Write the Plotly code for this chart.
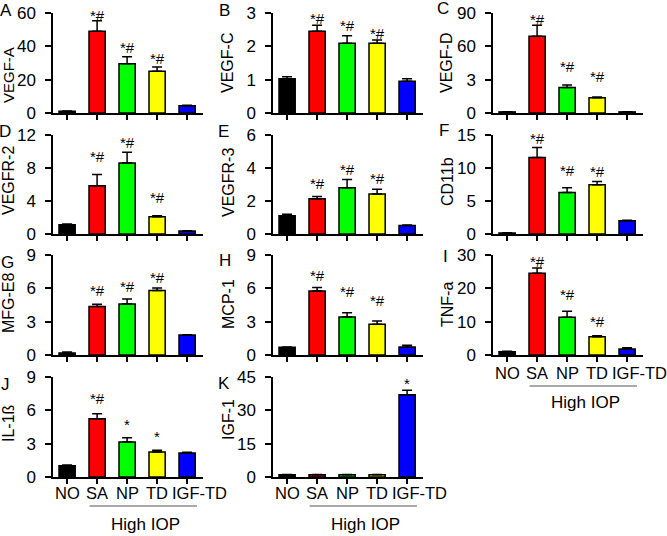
import plotly.graph_objects as go

# ---------------- data ----------------
groups = ["NO", "SA", "NP", "TD", "IGF-TD"]
bar_colors = ["#000000", "#FF0000", "#00FF00", "#FFFF00", "#0000FF"]

vegf_a_mean = [1.0, 49.0, 29.5, 25.0, 4.3]
vegf_a_sem = [0.2, 6.3, 4.3, 2.6, 0.3]
vegf_a_sig = ["", "*#", "*#", "*#", ""]
vegf_a_ticks = [0, 20, 40, 60]

vegf_c_mean = [1.03, 2.45, 2.09, 2.09, 0.95]
vegf_c_sem = [0.06, 0.18, 0.23, 0.10, 0.08]
vegf_c_sig = ["", "*#", "*#", "*#", ""]
vegf_c_ticks = [0, 1, 2, 3]

vegf_d_mean = [0.1, 69.0, 2.3, 1.38, 0.1]
vegf_d_sem = [0.02, 10.0, 0.22, 0.05, 0.02]
vegf_d_sig = ["", "*#", "*#", "*#", ""]
vegf_d_ticks = [0, 3, 60, 90]   # broken (segmented) axis

vegfr2_mean = [1.13, 5.85, 8.6, 2.08, 0.36]
vegfr2_sem = [0.07, 1.35, 1.3, 0.12, 0.03]
vegfr2_sig = ["", "*#", "*#", "*#", ""]
vegfr2_ticks = [0, 4, 8, 12]

vegfr3_mean = [1.1, 2.13, 2.8, 2.43, 0.52]
vegfr3_sem = [0.1, 0.15, 0.5, 0.28, 0.03]
vegfr3_sig = ["", "*#", "*#", "*#", ""]
vegfr3_ticks = [0, 2, 4, 6]

cd11b_mean = [0.15, 11.6, 6.3, 7.45, 2.0]
cd11b_sem = [0.05, 1.5, 0.7, 0.5, 0.1]
cd11b_sig = ["", "*#", "*#", "*#", ""]
cd11b_ticks = [0, 5, 10, 15]

mfge8_mean = [0.18, 4.37, 4.58, 5.81, 1.8]
mfge8_sem = [0.08, 0.2, 0.45, 0.21, 0.03]
mfge8_sig = ["", "*#", "*#", "*#", ""]
mfge8_ticks = [0, 3, 6, 9]

mcp1_mean = [0.69, 5.75, 3.43, 2.77, 0.72]
mcp1_sem = [0.04, 0.33, 0.37, 0.3, 0.15]
mcp1_sig = ["", "*#", "*#", "*#", ""]
mcp1_ticks = [0, 3, 6, 9]

tnfa_mean = [1.0, 24.5, 11.3, 5.5, 1.8]
tnfa_sem = [0.1, 1.6, 1.8, 0.3, 0.4]
tnfa_sig = ["", "*#", "*#", "*#", ""]
tnfa_ticks = [0, 10, 20, 30]

il1b_mean = [1.02, 5.25, 3.15, 2.25, 2.16]
il1b_sem = [0.05, 0.45, 0.39, 0.15, 0.07]
il1b_sig = ["", "*#", "*", "*", ""]
il1b_ticks = [0, 3, 6, 9]

igf1_mean = [1.0, 1.0, 1.0, 1.0, 37.0]
igf1_sem = [0.1, 0.1, 0.1, 0.1, 2.0]
igf1_sig = ["", "", "", "", "*"]
igf1_ticks = [0, 15, 30, 45]

group_label = "High IOP"

# ---------------- layout helpers ----------------
W, H = 667, 536
FONT = "Liberation Sans, Arial, sans-serif"


def px(x):
    return x / W


def py(y):
    return 1 - y / H


def seg(v):
    """segmented axis used for VEGF-D: 0-3 | 3-60 | 60-90 each one unit"""
    if v <= 3:
        return v / 3.0
    if v <= 60:
        return 1 + (v - 3) / 57.0
    return 2 + (v - 60) / 30.0


panels = [
    # letter, label, mean, sem, sig, ticks, col, row, segmented, show x labels
    ("A", "VEGF-A", vegf_a_mean, vegf_a_sem, vegf_a_sig, vegf_a_ticks, 0, 0, False, False),
    ("B", "VEGF-C", vegf_c_mean, vegf_c_sem, vegf_c_sig, vegf_c_ticks, 1, 0, False, False),
    ("C", "VEGF-D", vegf_d_mean, vegf_d_sem, vegf_d_sig, vegf_d_ticks, 2, 0, True, False),
    ("D", "VEGFR-2", vegfr2_mean, vegfr2_sem, vegfr2_sig, vegfr2_ticks, 0, 1, False, False),
    ("E", "VEGFR-3", vegfr3_mean, vegfr3_sem, vegfr3_sig, vegfr3_ticks, 1, 1, False, False),
    ("F", "CD11b", cd11b_mean, cd11b_sem, cd11b_sig, cd11b_ticks, 2, 1, False, False),
    ("G", "MFG-E8", mfge8_mean, mfge8_sem, mfge8_sig, mfge8_ticks, 0, 2, False, False),
    ("H", "MCP-1", mcp1_mean, mcp1_sem, mcp1_sig, mcp1_ticks, 1, 2, False, False),
    ("I", "TNF-a", tnfa_mean, tnfa_sem, tnfa_sig, tnfa_ticks, 2, 2, False, True),
    ("J", "IL-1ß", il1b_mean, il1b_sem, il1b_sig, il1b_ticks, 0, 3, False, True),
    ("K", "IGF-1", igf1_mean, igf1_sem, igf1_sig, igf1_ticks, 1, 3, False, True),
]

col_x0 = [53, 273, 493]
plot_w = 150
row_y = [(13, 113), (135, 234), (255, 355), (377, 477)]

# pixel positions of panel letters and y-labels (centers)
letter_pos = {"A": (6, 10), "B": (224, 10), "C": (443, 9), "D": (5, 131), "E": (223, 131),
              "F": (444, 130), "G": (7, 262), "H": (225, 260), "I": (445, 256),
              "J": (5, 384), "K": (224, 383)}
label_pos = {"A": (8, 75), "B": (228, 63), "C": (447, 63), "D": (8, 181), "E": (228, 183),
             "F": (447, 182), "G": (8, 303), "H": (228, 304), "I": (447, 305),
             "J": (8, 423), "K": (228, 420)}
label_size = {"A": 15}
# pixel gap between error-bar top and centre of significance text
star_shift = {"A": [0, 5, 9, 9, 0], "B": [0, 7, 10, 6, 0], "C": [0, 6, 19, 21, 0],
              "D": [0, 18, 10, 18, 0], "E": [0, 13, 10, 11, 0], "F": [0, 9, 17, 10, 0],
              "G": [0, 14, 13, 11, 0], "H": [0, 12, 21, 20, 0], "I": [0, 7, 17, 14, 0],
              "J": [0, 15, 13, 14, 0], "K": [0, 0, 0, 0, 7]}
cat_label_y = {"I": 373, "J": 493, "K": 493}
cat_label_xshift = [0, 0, 0, 0, 12]
group_line_y = {"I": 386, "J": 506, "K": 506}
group_text_y = {"I": 402, "J": 524, "K": 524}

fig = go.Figure()
layout = dict(
    width=W, height=H,
    margin=dict(l=0, r=0, t=0, b=0, autoexpand=False),
    paper_bgcolor="white", plot_bgcolor="white",
    showlegend=False,
    font=dict(family=FONT, size=17, color="black"),
    annotations=[], shapes=[],
)

xs = list(range(len(groups)))

for k, (letter, label, mean, sem, sig, ticks, col, row, segmented, showx) in enumerate(panels):
    n = k + 1
    xa = "x" if n == 1 else f"x{n}"
    ya = "y" if n == 1 else f"y{n}"
    tr = seg if segmented else (lambda v: v)
    ymean = [tr(v) for v in mean]
    ytop = [tr(m + s) for m, s in zip(mean, sem)]
    err = [t - m for t, m in zip(ytop, ymean)]

    fig.add_trace(go.Bar(
        x=xs, y=ymean, xaxis=xa, yaxis=ya, width=0.54,
        marker=dict(color=bar_colors, line=dict(color="black", width=1.5)),
        error_y=dict(type="data", array=err, arrayminus=[0] * len(err), symmetric=False,
                     color="black", thickness=1.5, width=5),
        hoverinfo="skip",
    ))

    x0 = col_x0[col]
    top, bot = row_y[row]
    tickvals = [tr(t) for t in ticks]
    layout["xaxis" if n == 1 else f"xaxis{n}"] = dict(
        domain=[px(x0), px(x0 + plot_w)], anchor=ya, automargin=False,
        range=[-0.47, 4.53], showline=True, linecolor="black", linewidth=1.5,
        ticks="outside", ticklen=5, tickwidth=1.5, tickcolor="black",
        tickvals=xs, showticklabels=False,
        showgrid=False, zeroline=False, fixedrange=True,
    )
    layout["yaxis" if n == 1 else f"yaxis{n}"] = dict(
        domain=[py(bot), py(top)], anchor=xa, automargin=False,
        range=[0, tickvals[-1]], showline=True, linecolor="black", linewidth=1.5,
        ticks="outside", ticklen=6, tickwidth=1.5, tickcolor="black",
        tickvals=tickvals, ticktext=[str(t) for t in ticks],
        tickfont=dict(size=17, family=FONT), ticklabelstandoff=6,
        showgrid=False, zeroline=False, fixedrange=True,
    )

    lx, ly = letter_pos[letter]
    layout["annotations"].append(dict(
        text=letter, xref="paper", yref="paper", x=px(lx), y=py(ly),
        xanchor="center", yanchor="middle", showarrow=False,
        font=dict(size=17, family=FONT)))
    yx, yy = label_pos[letter]
    layout["annotations"].append(dict(
        text=label, xref="paper", yref="paper", x=px(yx), y=py(yy),
        xanchor="center", yanchor="middle", showarrow=False, textangle=-90,
        font=dict(size=label_size.get(letter, 16), family=FONT)))

    for i, s in enumerate(sig):
        if s:
            layout["annotations"].append(dict(
                text=s, xref=xa, yref=ya, x=i, y=ytop[i], yshift=star_shift[letter][i],
                xanchor="center", yanchor="middle", showarrow=False,
                font=dict(size=15, family=FONT)))

    if showx:
        for i, g in enumerate(groups):
            layout["annotations"].append(dict(
                text=g, xref=xa, yref="paper", x=i, xshift=cat_label_xshift[i],
                y=py(cat_label_y[letter]), xanchor="center", yanchor="middle",
                showarrow=False, font=dict(size=16.5, family=FONT)))
        ly0 = py(group_line_y[letter])
        layout["shapes"].append(dict(
            type="line", xref=xa, yref="paper", x0=0.75, x1=4.33, y0=ly0, y1=ly0,
            line=dict(color="#555555", width=1)))
        layout["annotations"].append(dict(
            text=group_label, xref=xa, yref="paper", x=2.6,
            y=py(group_text_y[letter]), xanchor="center", yanchor="middle",
            showarrow=False, font=dict(size=17, family=FONT)))

fig.update_layout(**layout)
# remove the browser's default 8px page margin so the figure sits at the window's corner
fig.write_html("out.html", config={"displayModeBar": False},
               post_script="document.body.style.margin='0px';")
